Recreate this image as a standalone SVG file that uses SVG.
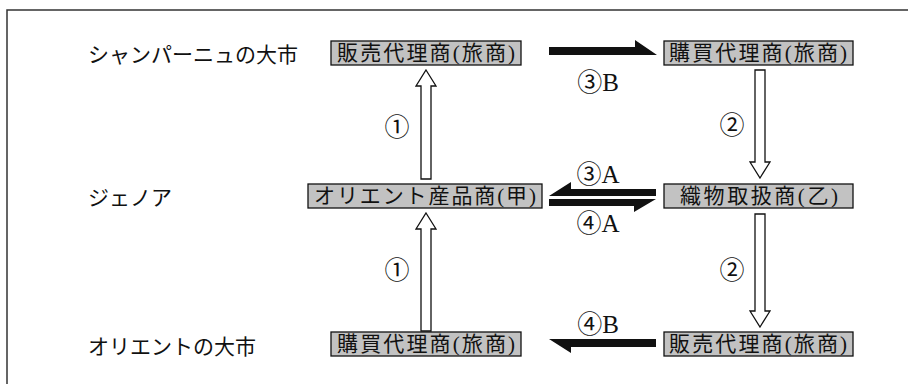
<svg xmlns="http://www.w3.org/2000/svg" width="908" height="384" viewBox="0 0 908 384">
<style>
.frame{fill:none;stroke:#333;stroke-width:1.5}
.box{fill:#c2c2c2;stroke:#111;stroke-width:1.3}
.bt{font-family:"Liberation Serif","Noto Sans CJK JP",serif;font-size:21px;fill:#111;text-anchor:middle;dominant-baseline:central}
.lbl{font-family:"Liberation Serif","Noto Sans CJK JP",serif;font-size:21px;fill:#111;dominant-baseline:central}
.num{font-family:"Liberation Serif","Noto Sans CJK JP",serif;font-size:25px;fill:#111;text-anchor:middle;dominant-baseline:central}
.hollow{fill:#fff;stroke:#111;stroke-width:1.3;stroke-linejoin:miter}
.solid{fill:#111;stroke:none}
</style>
<rect width="908" height="384" fill="#fff"/>
<path class="frame" d="M7,384 V10 H908"/>

<g id="row-labels">
<text class="lbl" x="88" y="55">シャンパーニュの大市</text>
<text class="lbl" x="88" y="198">ジェノア</text>
<text class="lbl" x="88" y="347">オリエントの大市</text>
</g>

<g id="n-champ-sell">
<rect class="box" x="331" y="41" width="190" height="24"/>
<text class="bt" x="426" y="53" textLength="178" lengthAdjust="spacing">販売代理商(旅商)</text>
</g>
<g id="n-champ-buy">
<rect class="box" x="664" y="41" width="189" height="24"/>
<text class="bt" x="758" y="53" textLength="178" lengthAdjust="spacing">購買代理商(旅商)</text>
</g>
<g id="n-genoa-orient">
<rect class="box" x="308" y="184" width="234" height="24"/>
<text class="bt" x="425" y="196" textLength="222" lengthAdjust="spacing">オリエント産品商(甲)</text>
</g>
<g id="n-genoa-textile">
<rect class="box" x="664" y="184" width="189" height="24"/>
<text class="bt" x="759" y="196" textLength="158" lengthAdjust="spacing">織物取扱商(乙)</text>
</g>
<g id="n-orient-buy">
<rect class="box" x="331" y="332" width="190" height="24"/>
<text class="bt" x="426" y="344" textLength="178" lengthAdjust="spacing">購買代理商(旅商)</text>
</g>
<g id="n-orient-sell">
<rect class="box" x="664" y="332" width="189" height="24"/>
<text class="bt" x="758" y="344" textLength="178" lengthAdjust="spacing">販売代理商(旅商)</text>
</g>

<g id="connectors">
<polygon class="hollow" points="426,70 436,86 431,86 431,179 421,179 421,86 416,86"/>
<polygon class="hollow" points="426,213 436,229 431,229 431,331 421,331 421,229 416,229"/>
<polygon class="hollow" points="760,178 770,162 765,162 765,70 755,70 755,162 750,162"/>
<polygon class="hollow" points="760,327 770,311 765,311 765,214 755,214 755,311 750,311"/>
<polygon class="solid" points="549,47 635,47 635,40 657,55 549,55"/>
<polygon class="solid" points="656,189 571,189 571,182 549,196 656,196"/>
<polygon class="solid" points="549,199 656,199 634,212 634,206 549,206"/>
<polygon class="solid" points="656,339 549,339 571,353 571,347 656,347"/>
<text class="num" x="397" y="127">①</text>
<text class="num" x="397" y="270">①</text>
<text class="num" x="732" y="125">②</text>
<text class="num" x="732" y="270">②</text>
<text class="num" x="598" y="82">③B</text>
<text class="num" x="598" y="174">③A</text>
<text class="num" x="598" y="223">④A</text>
<text class="num" x="598" y="324">④B</text>
</g>
</svg>
